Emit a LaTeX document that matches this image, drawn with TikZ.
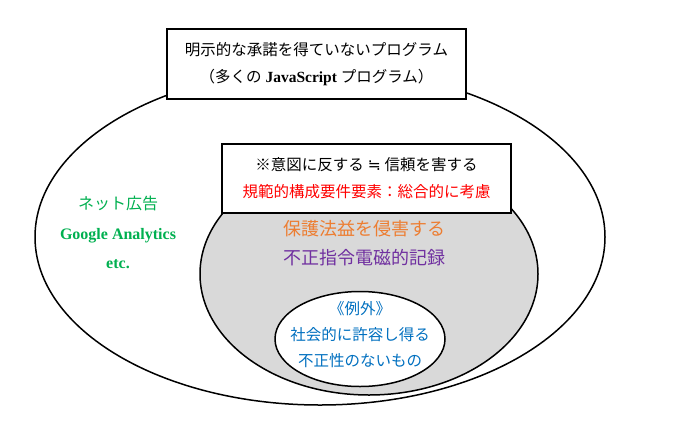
\documentclass[tikz,border=0pt]{standalone}
\usepackage{fontspec}
\setmainfont{Liberation Serif}
\newfontfamily\cjk{Noto Sans CJK JP}
\newfontfamily\sym{DejaVu Sans}
\usetikzlibrary{shapes.geometric}
\definecolor{adgreen}{RGB}{0,176,80}
\definecolor{harmorange}{RGB}{237,125,49}
\definecolor{lawpurple}{RGB}{112,48,160}
\definecolor{exblue}{RGB}{0,112,192}
\definecolor{zonegray}{RGB}{217,217,217}
\begin{document}
\begin{tikzpicture}[x=1pt, y=-1pt,
        zone/.style={ellipse, draw, line width=1.5pt, inner sep=0pt, fill=white},
        notebox/.style={rectangle, draw, line width=1.5pt, fill=white, align=center, inner sep=0pt},
        zone_label/.style={align=center, inner sep=0pt}
    ]
        \useasboundingbox (0,0) rectangle (680,429);

        % Outer zone: programs without consent
        \node[zone, minimum width=570pt, minimum height=336pt] (outer_zone) at (320,237) {};
        \node[notebox, minimum width=299pt, minimum height=70pt,
              font=\fontsize{15.5}{27}\selectfont] (outer_box) at (316.5,64)
            {\cjk 明示的な承諾を得ていないプログラム\\
             {\cjk （多くの} \textbf{JavaScript} {\cjk プログラム）}};

        % Middle zone: unlawful programs
        \node[zone, fill=zonegray, minimum width=338pt, minimum height=242pt] (mid_zone) at (369,274) {};
        \node[notebox, minimum width=289pt, minimum height=69pt,
              font=\fontsize{15.5}{27}\selectfont] (mid_box) at (366.5,178.5)
            {{\cjk ※意図に反する} {\sym ≒} {\cjk 信頼を害する}\\
             \color{red}\cjk 規範的構成要件要素：総合的に考慮};

        % Inner zone: exceptions
        \node[zone, minimum width=170pt, minimum height=95pt] (inner_zone) at (360,339) {};

        % Labels
        \node[zone_label, text=adgreen, font=\fontsize{16}{29.5}\selectfont] (ad_label) at (118,232.5)
            {{\cjk ネット広告}\\ \textbf{Google Analytics}\\ \textbf{etc.}};
        \node[zone_label, text=harmorange, font=\fontsize{18}{18}\selectfont] (harm_label) at (364,229)
            {\cjk 保護法益を侵害する};
        \node[zone_label, text=lawpurple, font=\fontsize{18}{18}\selectfont] (law_label) at (364,258)
            {\cjk 不正指令電磁的記録};
        \node[zone_label, text=exblue, font=\fontsize{15.5}{26}\selectfont] (exception_label) at (360,335)
            {\cjk 《例外》\\ \cjk 社会的に許容し得る\\ \cjk 不正性のないもの};

    \end{tikzpicture}
\end{document}
